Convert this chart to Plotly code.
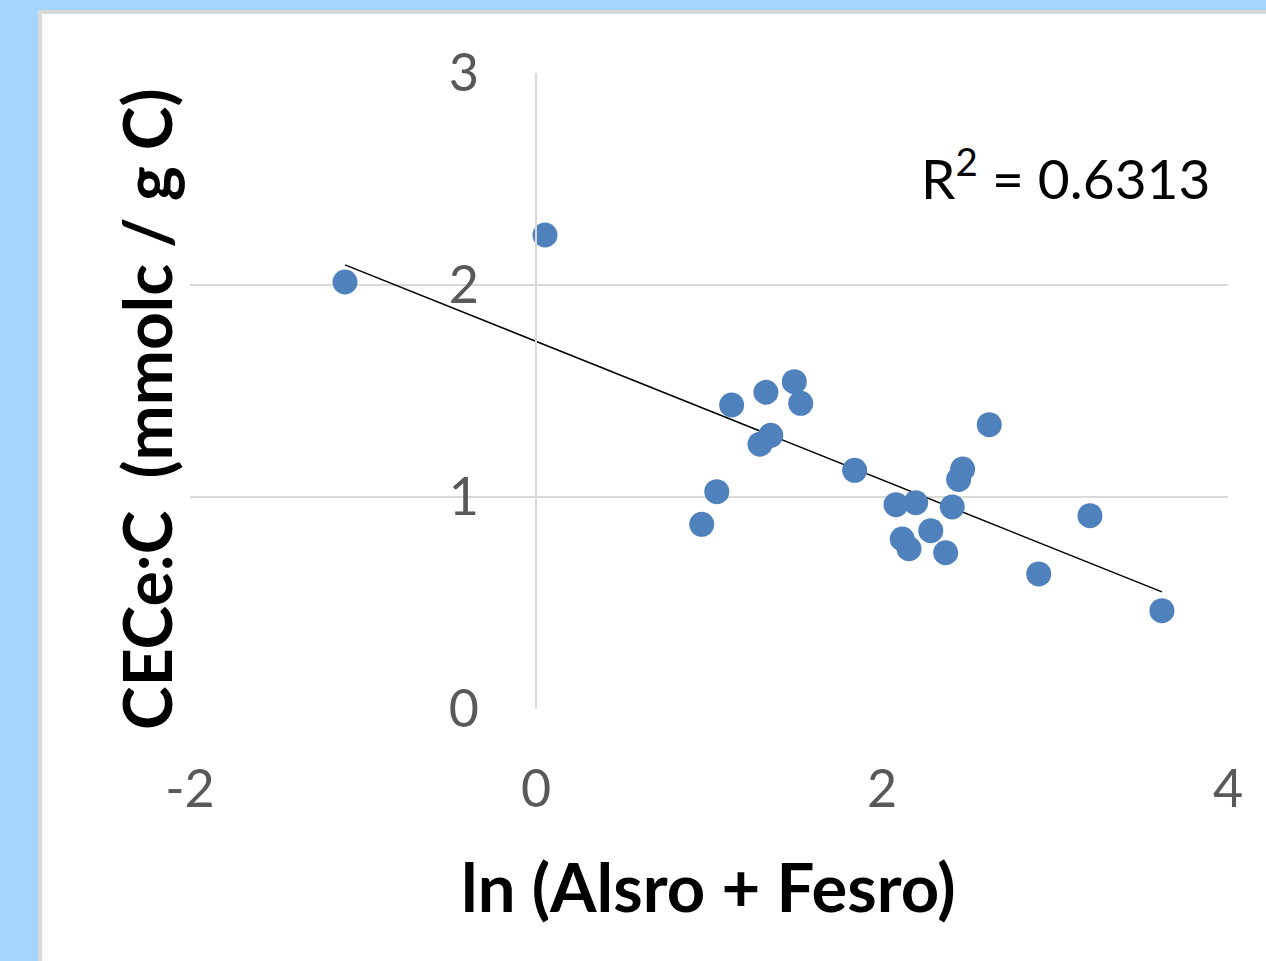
import numpy as np
import plotly.graph_objects as go

# Data
x_vals = [-1.104, 0.052, 0.958, 1.045, 1.131, 1.295, 1.357, 1.329, 1.493, 1.530,
          1.842, 2.081, 2.195, 2.466, 2.443, 2.406, 2.620, 2.117, 2.156, 2.282,
          2.368, 2.906, 3.202, 3.618]
y_vals = [2.014, 2.236, 0.871, 1.025, 1.434, 1.249, 1.291, 1.494, 1.544, 1.442,
          1.126, 0.964, 0.973, 1.132, 1.083, 0.953, 1.341, 0.802, 0.756, 0.841,
          0.737, 0.637, 0.912, 0.464]
x_ticks = [-2, 0, 2, 4]
x_ticktext = ["-2", "0", "2", "4"]
y_ticks = [0, 1, 2, 3]
y_ticktext = ["0", "1", "2", "3"]
r2_label = "R<sup>2</sup> = 0.6313"
x_title = "ln (Alsro + Fesro)"
y_title = "CECe:C  (mmolc / g C)"

FONT = "Lato"
x_range = [-2, 4]
y_range = [0, 3]

# linear trendline
slope, intercept = np.polyfit(x_vals, y_vals, 1)
tx = np.array([min(x_vals), max(x_vals)])
ty = slope * tx + intercept

fig = go.Figure()
fig.add_trace(go.Scatter(x=tx, y=ty, mode="lines",
                         line=dict(color="#000000", width=1.5),
                         showlegend=False, hoverinfo="skip"))
fig.add_trace(go.Scatter(x=x_vals, y=y_vals, mode="markers",
                         marker=dict(color="#4F81BD", size=25, line=dict(width=0)),
                         showlegend=False))

W, H = 1266, 961
ml, mr, mt, mb = 190, 38, 73, 252
pw, ph = W - ml - mr, H - mt - mb

def px2paper_x(px):
    return (px - ml) / pw

def px2paper_y(py):
    return (H - mb - py) / ph

# white panel with grey border over light blue page
fig.add_shape(type="rect", xref="paper", yref="paper",
              x0=px2paper_x(40), x1=px2paper_x(1300),
              y0=px2paper_y(1000), y1=px2paper_y(12),
              fillcolor="white", line=dict(color="#D9D9D9", width=4),
              layer="below")

fig.add_annotation(text=r2_label, xref="paper", yref="paper",
                   x=px2paper_x(1212), y=px2paper_y(174),
                   xanchor="right", yanchor="middle", showarrow=False,
                   font=dict(family=FONT, size=55, color="#000000"))
fig.add_annotation(text="<b>" + x_title + "</b>", xref="paper", yref="paper",
                   x=px2paper_x(708), y=px2paper_y(886),
                   xanchor="center", yanchor="middle", showarrow=False,
                   font=dict(family=FONT, size=67, color="#000000"))
fig.add_annotation(text="<b>" + y_title + "</b>", xref="paper", yref="paper",
                   x=px2paper_x(146), y=px2paper_y(409), textangle=-90,
                   xanchor="center", yanchor="middle", showarrow=False,
                   font=dict(family=FONT, size=66, color="#000000"))

fig.update_layout(
    width=W, height=H,
    margin=dict(l=ml, r=mr, t=mt, b=mb),
    paper_bgcolor="#A6D5FE",
    plot_bgcolor="rgba(0,0,0,0)",
    xaxis=dict(range=x_range, tickvals=x_ticks, ticktext=x_ticktext,
               showgrid=False, zeroline=False,
               showline=False, ticks="", ticklabelstandoff=45,
               tickfont=dict(family=FONT, size=52, color="#595959"),
               domain=[0, 1]),
    yaxis=dict(range=y_range, tickvals=y_ticks, ticktext=y_ticktext,
               showgrid=True, gridcolor="#D9D9D9",
               gridwidth=1.5, zeroline=False, showline=True, linecolor="#D9D9D9",
               linewidth=1.5, ticks="", anchor="free",
               position=(0 - x_range[0]) / (x_range[1] - x_range[0]),
               ticklabelstandoff=46,
               tickfont=dict(family=FONT, size=52, color="#595959")),
)

fig.write_html("out.html",
               config={"displayModeBar": False},
               post_script="document.body.style.margin='0';"
                           "document.body.style.background='#A6D5FE';")
